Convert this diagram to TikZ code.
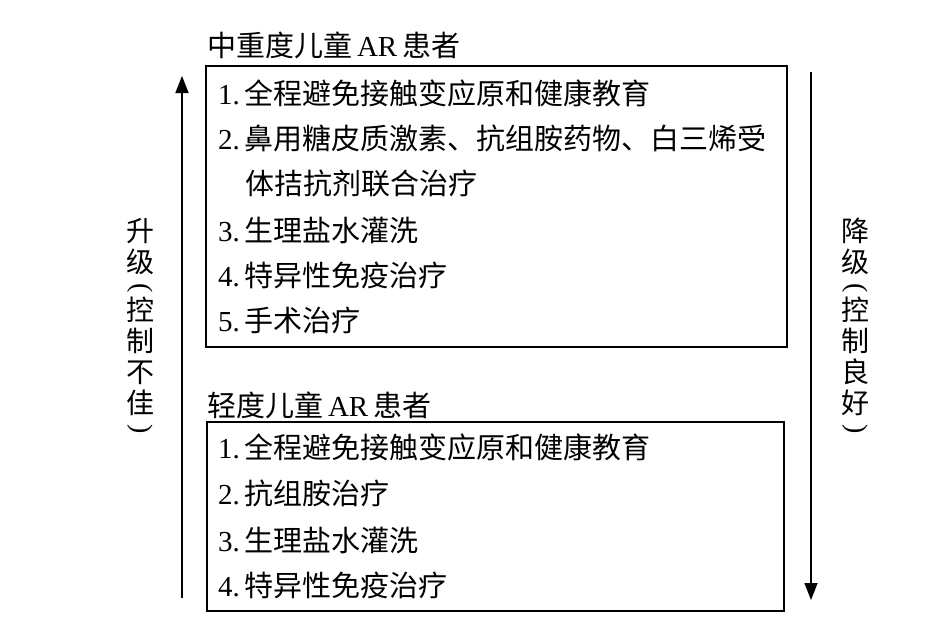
\documentclass[tikz,border=0pt]{standalone}
\usepackage{fontspec}
\setmainfont{Liberation Serif}
\newfontfamily\cjk{Noto Sans CJK SC}
\usetikzlibrary{arrows.meta}
\newcommand{\vopen}{\rotatebox[origin=c]{-90}{\rmfamily(}}
\newcommand{\vclose}{\rotatebox[origin=c]{-90}{\rmfamily)}}
\begin{document}
\begin{tikzpicture}[x=1pt,y=-1pt]
      \useasboundingbox (0,0) rectangle (950,626);

      \tikzset{
        frame/.style={draw,line width=1.3pt,inner sep=0pt,outer sep=0pt},
        item/.style={anchor=west,inner sep=0pt,font=\fontsize{29}{31}\selectfont},
        vtext/.style={align=center,inner sep=0pt,font=\cjk\fontsize{28}{31}\selectfont},
        flow/.style={line width=1.5pt,-{Triangle[width=13pt,length=17pt]}}
      }

      \node[frame,minimum width=581pt,minimum height=281pt] (severe) at (496.5,206.5) {};
      \node[frame,minimum width=577pt,minimum height=189pt] (mild)   at (495.5,516.5) {};

      \begin{scope}[every node/.style={item}]
        \node (t1)  at (207,45)  {{\cjk 中重度儿童}\,AR\,{\cjk 患者}};
        \node (s1)  at (218,93)  {1.\,{\cjk 全程避免接触变应原和健康教育}};
        \node (s2)  at (218,138) {2.\,{\cjk 鼻用糖皮质激素、抗组胺药物、白三烯受}};
        \node (s2b) at (245,183) {{\cjk 体拮抗剂联合治疗}};
        \node (s3)  at (218,230) {3.\,{\cjk 生理盐水灌洗}};
        \node (s4)  at (218,275) {4.\,{\cjk 特异性免疫治疗}};
        \node (s5)  at (218,320) {5.\,{\cjk 手术治疗}};
        \node (t2)  at (207,405) {{\cjk 轻度儿童}\,AR\,{\cjk 患者}};
        \node (m1)  at (218,447) {1.\,{\cjk 全程避免接触变应原和健康教育}};
        \node (m2)  at (218,493) {2.\,{\cjk 抗组胺治疗}};
        \node (m3)  at (218,540) {3.\,{\cjk 生理盐水灌洗}};
        \node (m4)  at (218,585) {4.\,{\cjk 特异性免疫治疗}};
      \end{scope}

      \node[vtext] (up)   at (140,327) {升\\级\\[-8pt]\vopen\\[-6pt]控\\制\\不\\佳\\[-8pt]\vclose};
      \node[vtext] (down) at (855,327) {降\\级\\[-8pt]\vopen\\[-6pt]控\\制\\良\\好\\[-8pt]\vclose};

      \coordinate (upS)   at (182,598);
      \coordinate (upE)   at (182,76);
      \coordinate (downS) at (811,72);
      \coordinate (downE) at (811,600);

      \path (upS)   edge[flow] (upE);
      \path (downS) edge[flow] (downE);

    \end{tikzpicture}
\end{document}
